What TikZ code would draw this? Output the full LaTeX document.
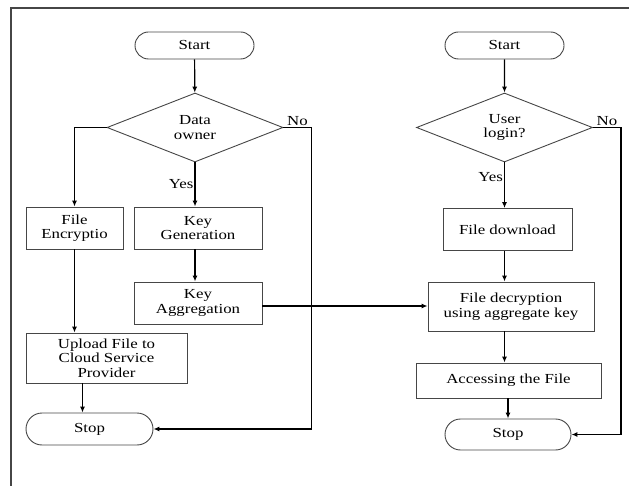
\documentclass[tikz,border=0pt]{standalone}
\usepackage{fontspec}
\setmainfont{Liberation Serif}[FakeStretch=1.22]
\usetikzlibrary{shapes.geometric,shapes.misc,arrows.meta}
\definecolor{boxgray}{RGB}{70,70,70}
\begin{document}
\begin{tikzpicture}[
  x=1pt, y=-1pt,
  every node/.style={font=\fontsize{13.8}{14.5}\selectfont},
  term/.style={draw=boxgray, line width=0.9pt, rounded rectangle, minimum width=123, minimum height=27, inner sep=2pt},
  decision/.style={draw=boxgray, line width=0.9pt, diamond, aspect=2.5, minimum width=176, minimum height=69, inner sep=0pt, align=center},
  proc/.style={draw=boxgray, line width=0.9pt, rectangle, align=center, minimum height=42, inner sep=2pt},
  lbl/.style={inner sep=1pt},
  flow/.style={line width=1.2pt, -{Latex[length=6pt,width=5pt]}},
  >=latex
]
\useasboundingbox (0,0) rectangle (629,486);
\draw[line width=1.6pt, boxgray] (11,486) -- (11,8) -- (629,8);

% --- owner side ---
\node[term] (startL) at (194.5,45.5) {Start};
\node[decision] (dl) at (195,127.5) {Data\\owner};
\node[proc, minimum width=97] (enc) at (74.5,228) {File\\Encryptio};
\node[proc, minimum width=128] (gen) at (198,228) {Key\\Generation};
\node[proc, minimum width=128] (agg) at (198,303) {Key\\Aggregation};
\node[proc, minimum width=161, minimum height=50] (upl) at (106.5,358) {Upload File to\\Cloud Service\\Provider};
\node[term, minimum width=131, minimum height=32] (stopL) at (89.5,429) {Stop};

\draw[flow] (startL) -- (dl);
\draw[flow] (dl.south) -- (dl.south |- gen.north) node[pos=0.5, lbl, anchor=east] {Yes};
\draw[flow] (dl.west) -| (enc.north);
\draw[flow] (dl.east) -- node[lbl, above] {No} ++(28,0) |- (stopL.east);
\draw[flow] (gen.south -| dl.south) -- (agg.north -| dl.south);
\draw[flow] (enc.south) -- (enc.south |- upl.north);
\draw[flow] ([xshift=-24]upl.south) -- ([xshift=-24]upl.south |- stopL.north);

% --- user side ---
\node[term] (startR) at (504.5,45.5) {Start};
\node[decision] (ul) at (504.5,127.5) {User\\login?};
\node[proc, minimum width=129] (dwn) at (507.5,229.5) {File download};
\node[proc, minimum width=166, minimum height=49] (dec) at (511,306.5) {File decryption\\using aggregate key};
\node[proc, minimum width=185, minimum height=35] (acc) at (508.5,380.5) {Accessing the File};
\node[term, minimum width=130, minimum height=31] (stopR) at (508,434.5) {Stop};

\draw[flow] (startR) -- (ul);
\draw[flow] (ul.south) -- (ul.south |- dwn.north) node[pos=0.33, lbl, anchor=east] {Yes};
\draw[flow] (ul.east) -- node[lbl, above] {No} ++(28,0) |- (stopR.east);
\draw[flow] (dwn.south -| ul.south) -- (dec.north -| ul.south);
\draw[flow] (dec.south -| ul.south) -- (acc.north -| ul.south);
\draw[flow] (acc.south -| stopR.north) -- (stopR.north);

% --- key handed over ---
\draw[flow] ([yshift=-3]agg.east) -- ([yshift=-3]agg.east -| dec.west);

\end{tikzpicture}
\end{document}
